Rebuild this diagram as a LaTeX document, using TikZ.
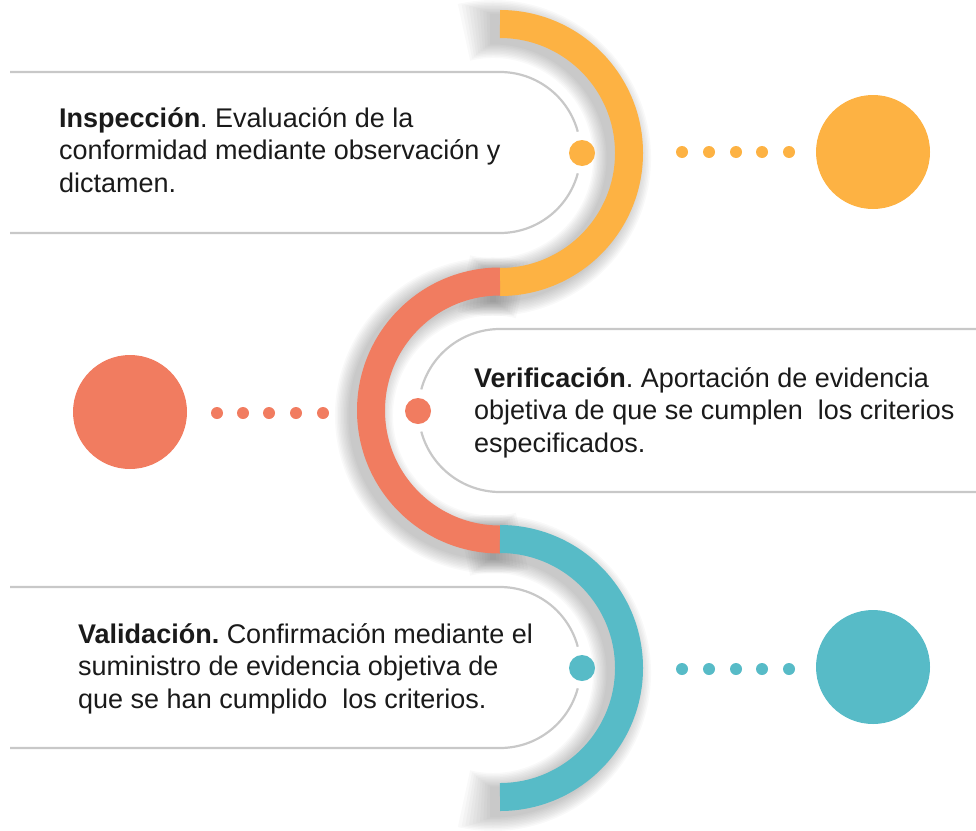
\documentclass[tikz,border=0pt]{standalone}
\usepackage{fontspec}
\setmainfont{Liberation Sans}
\frenchspacing
\definecolor{cyel}{HTML}{FDB243}
\definecolor{csal}{HTML}{F17C60}
\definecolor{ctea}{HTML}{57BBC7}
\definecolor{cline}{HTML}{C8C8C8}
\definecolor{ctext}{HTML}{1A1A1A}
\begin{document}
\begin{tikzpicture}[x=1pt,y=-1pt,
  band/.style={line width=28pt},
  panelline/.style={draw=cline, line width=2.2pt},
  bigdot/.style={circle, minimum size=114pt, inner sep=0pt},
  middot/.style={circle, minimum size=26pt, inner sep=0pt},
  smalldot/.style={circle, minimum size=12pt, inner sep=0pt},
  desc/.style={anchor=base west, align=left, inner sep=0pt, text=ctext,
    font=\fontsize{27}{32.5}\selectfont},
  shadowlayer/.style={draw=black, opacity=0.025},
]
\useasboundingbox (0,0) rectangle (976,830);

% soft shadows of the three arcs
\foreach \i in {1,...,10}{
  \pgfmathsetmacro\lw{28+3*\i}
  \pgfmathsetmacro\ex{1.3*\i}
  \draw[shadowlayer, line width=\lw pt, shift={(493,158)}]
    ({-90-\ex}:129) arc[start angle={-90-\ex}, end angle={90+\ex}, radius=129];
  \draw[shadowlayer, line width=\lw pt, shift={(493,415.5)}]
    ({270+\ex}:129) arc[start angle={270+\ex}, end angle={90-\ex}, radius=129];
  \draw[shadowlayer, line width=\lw pt, shift={(493,673)}]
    ({-90-\ex}:129) arc[start angle={-90-\ex}, end angle={90+\ex}, radius=129];
}

% panels
\fill[white] (10,72) -- (500,72) arc[start angle=-90, end angle=90, radius=80.5] -- (10,233) -- cycle;
\draw[panelline] (10,72) -- (500,72) arc[start angle=-90, end angle=-15, radius=80.5];
\draw[panelline] (10,233) -- (500,233) arc[start angle=90, end angle=15, radius=80.5];

\fill[white] (976,329) -- (500,329) arc[start angle=270, end angle=90, radius=81.5] -- (976,492) -- cycle;
\draw[panelline] (976,329) -- (500,329) arc[start angle=270, end angle=195, radius=81.5];
\draw[panelline] (976,492) -- (500,492) arc[start angle=90, end angle=165, radius=81.5];

\fill[white] (10,587) -- (500,587) arc[start angle=-90, end angle=90, radius=80.5] -- (10,748) -- cycle;
\draw[panelline] (10,587) -- (500,587) arc[start angle=-90, end angle=-15, radius=80.5];
\draw[panelline] (10,748) -- (500,748) arc[start angle=90, end angle=15, radius=80.5];

% arcs
\draw[band, cyel] (500,24) arc[start angle=-90, end angle=90, radius=129];
\draw[band, csal] (500,281.5) arc[start angle=270, end angle=90, radius=129];
\draw[band, ctea] (500,539) arc[start angle=-90, end angle=90, radius=129];

% dots
\node[middot, fill=cyel] (d1) at (582,153) {};
\foreach \x [count=\k] in {682,709,736,762,789}
  \node[smalldot, fill=cyel] (ra\k) at (\x,152) {};
\node[bigdot, fill=cyel] (b1) at (873,152) {};

\node[middot, fill=csal] (d2) at (418,411) {};
\foreach \x [count=\k] in {217,243,269,296,323}
  \node[smalldot, fill=csal] (rb\k) at (\x,413) {};
\node[bigdot, fill=csal] (b2) at (130,412) {};

\node[middot, fill=ctea] (d3) at (582,668) {};
\foreach \x [count=\k] in {682,709,736,762,789}
  \node[smalldot, fill=ctea] (rc\k) at (\x,669) {};
\node[bigdot, fill=ctea] (b3) at (873,667) {};

% texts (anchor is the baseline of the last line)
\node[desc] (t1) at (59,192) {\textbf{Inspección}. Evaluación de la\\conformidad mediante observación y\\dictamen.};
\node[desc] (t2) at (474,452) {\textbf{Verificación}. Aportación de evidencia\\objetiva de que se cumplen~ los criterios\\especificados.};
\node[desc] (t3) at (78,708) {\textbf{Validación.} Confirmación mediante el\\suministro de evidencia objetiva de\\que se han cumplido~ los criterios.};
\end{tikzpicture}
\end{document}
